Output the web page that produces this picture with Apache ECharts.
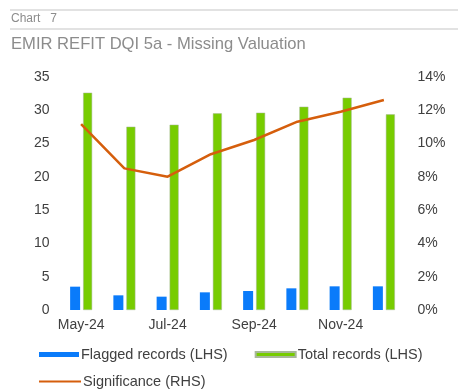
<!DOCTYPE html>
<html><head><meta charset="utf-8">
<script src="https://cdn.jsdelivr.net/npm/echarts@6/dist/echarts.min.js"></script>
<style>html,body{margin:0;padding:0;background:#fff}#c{width:469px;height:391px}</style>
</head><body><div id="c"></div>
<script>
const categories = ['May-24','Jun-24','Jul-24','Aug-24','Sep-24','Oct-24','Nov-24','Dec-24'];
const flagged = [3.5, 2.2, 2.0, 2.65, 2.85, 3.25, 3.55, 3.55];
const total = [32.6, 27.5, 27.8, 29.5, 29.6, 30.5, 31.85, 29.35];
const significance = [11.15, 8.5, 8.0, 9.35, 10.2, 11.3, 11.9, 12.6];
const leftTicks = [0, 35, 5];
const rightTicks = [0, 14, 2];

const font = 'Liberation Sans, Arial, sans-serif';
const chart = echarts.init(document.getElementById('c'));
chart.setOption({
  animation: false,
  textStyle: {fontFamily: font},
  graphic: [
    {type:'line', shape:{x1:10,y1:10,x2:458,y2:10}, style:{stroke:'#d9d9d9', lineWidth:1.5}},
    {type:'line', shape:{x1:10,y1:29,x2:458,y2:29}, style:{stroke:'#d9d9d9', lineWidth:1.5}},
    {type:'text', left:11, top:13, style:{text:'Chart   7', fill:'#8c8c8c', font:'12px ' + font}},
    {type:'text', left:11, top:36, style:{text:'EMIR REFIT DQI 5a - Missing Valuation', fill:'#8c8c8c', font:'16.6px ' + font}}
  ],
  grid: {left: 59.5, right: 63.5, top: 76.7, bottom: 81, containLabel: false},
  legend: [
    {data:['Flagged records (LHS)','Total records (LHS)'], left: 34, top: 342, itemWidth: 40, itemHeight: 5, itemGap: 27, icon: 'rect',
     textStyle:{fontSize:14.5, color:'#404040', fontFamily: font, padding:[0,0,0,-3]}},
    {data:['Significance (RHS)'], left: 34, top: 369, itemWidth: 42, itemHeight: 2, icon: 'rect',
     textStyle:{fontSize:14.5, color:'#404040', fontFamily: font, padding:[0,0,0,-3]}}
  ],
  xAxis: {type:'category', data: categories,
    axisLine:{show:false}, axisTick:{show:false},
    axisLabel:{interval:1, color:'#404040', fontSize:14, margin:8}},
  yAxis: [
    {type:'value', min:leftTicks[0], max:leftTicks[1], interval:leftTicks[2], splitLine:{show:false},
     axisLine:{show:false}, axisTick:{show:false}, axisLabel:{color:'#404040', fontSize:14, margin:10}},
    {type:'value', min:rightTicks[0], max:rightTicks[1], interval:rightTicks[2], splitLine:{show:false},
     axisLine:{show:false}, axisTick:{show:false}, axisLabel:{color:'#404040', fontSize:14, margin:12, formatter:'{value}%'}}
  ],
  series: [
    {name:'Flagged records (LHS)', type:'bar', data: flagged, barWidth: 10, barGap: '30%', itemStyle:{color:'#0A7BFA'}},
    {name:'Total records (LHS)', type:'bar', data: total, barWidth: 9, itemStyle:{color:'#77CC00', borderColor:'#a8b89a', borderWidth:0.5}},
    {name:'Significance (RHS)', type:'line', yAxisIndex:1, data: significance, symbol:'none', lineStyle:{color:'#D55E0C', width:2.5}, itemStyle:{color:'#D55E0C'}}
  ]
});
</script></body></html>
